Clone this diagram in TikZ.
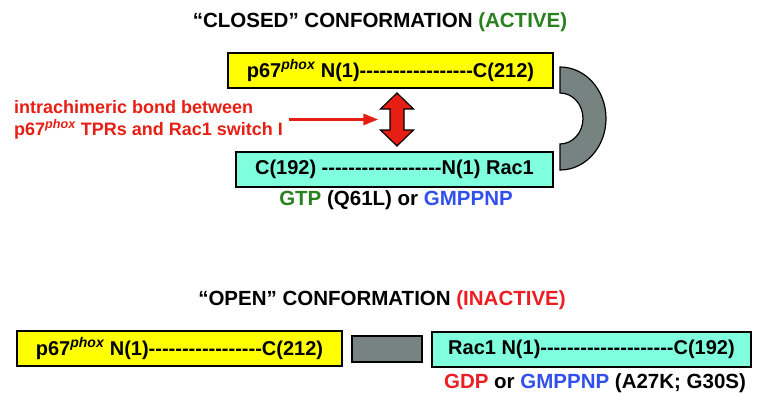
\documentclass[tikz,border=0pt]{standalone}
\usepackage{fontspec}
\setmainfont{Liberation Sans}[Ligatures=TeXOff]
\usetikzlibrary{arrows.meta}
\definecolor{boxyellow}{RGB}{255,255,0}
\definecolor{boxcyan}{RGB}{128,255,223}
\definecolor{lobegray}{RGB}{119,131,129}
\definecolor{actgreen}{RGB}{40,128,30}
\definecolor{gdpred}{RGB}{235,30,35}
\definecolor{gmpblue}{RGB}{50,80,235}
\definecolor{bondred}{RGB}{230,30,20}

\begin{document}
\begin{tikzpicture}[x=1pt,y=1pt,
  txt/.style={font=\fontsize{20.5}{24}\selectfont\bfseries, inner sep=0pt},
  chain/.style={draw=black, line width=1.5pt, minimum height=35pt, inner sep=0pt,
    font=\fontsize{20}{24}\selectfont\bfseries},
  p67box/.style={chain, fill=boxyellow, minimum width=325pt},
  racbox/.style={chain, fill=boxcyan},
  lobe/.style={draw=black, line width=1.2pt, fill=lobegray}]
  \useasboundingbox (0,0) rectangle (761,408);

  % Closed conformation (top)
  \node[txt] (closedttl) at (380,386) {“CLOSED” CONFORMATION \textcolor{actgreen}{(ACTIVE)}};
  \node[p67box] (p67c) at (390.5,337.5) {p67\textsuperscript{\itshape phox} N(1)-----------------C(212)};
  \node[racbox, minimum width=317pt] (racc) at (394.5,238.5) {C(192) ------------------N(1) Rac1};
  \node[txt] (gtplbl) at (396,208) {\textcolor{actgreen}{GTP} (Q61L) or \textcolor{gmpblue}{GMPPNP}};
  % gray linker bent round the right side
  \draw[lobe] (560,341) arc[start angle=90, end angle=-90, x radius=46, y radius=51.5]
    -- (560,264) arc[start angle=-90, end angle=90, x radius=23, y radius=25.5] -- cycle;
  % bond between the two halves
  \node[minimum width=33pt, minimum height=53pt, inner sep=0pt] (dbl) at (397,288.5) {};
  \draw[black, line width=1.2pt, fill=bondred, line join=miter] (dbl.center) ++(0,26.5)
    -- ++(-16.5,-16) -- ++(9.5,0) -- ++(0,-21) -- ++(-9.5,0) -- ++(16.5,-16)
    -- ++(16.5,16) -- ++(-9.5,0) -- ++(0,21) -- ++(9.5,0) -- cycle;
  \node[font=\fontsize{18}{22}\selectfont\bfseries, text=bondred, align=left, anchor=west,
    inner sep=2pt] (bondlbl) at (12,288.5)
    {intrachimeric bond between\\p67\textsuperscript{\itshape phox} TPRs and Rac1 switch I};
  \draw[bondred, line width=3pt, -{Triangle[length=15pt,width=11pt]}, shorten <=4pt, shorten >=2pt]
    (bondlbl) -- (dbl);

  % Open conformation (bottom)
  \node[txt] (openttl) at (382,108) {“OPEN” CONFORMATION \textcolor{gdpred}{(INACTIVE)}};
  \node[p67box] (p67o) at (179.5,59.5) {p67\textsuperscript{\itshape phox} N(1)-----------------C(212)};
  \node[lobe, minimum width=70pt, minimum height=26pt, inner sep=0pt] (lnk) at (387,59) {};
  \node[racbox, minimum width=319pt] (raco) at (591.5,58.5) {Rac1 N(1)--------------------C(192)};
  \node[txt] (gdplbl) at (595,25) {\textcolor{gdpred}{GDP} or \textcolor{gmpblue}{GMPPNP} (A27K; G30S)};
\end{tikzpicture}
\end{document}
